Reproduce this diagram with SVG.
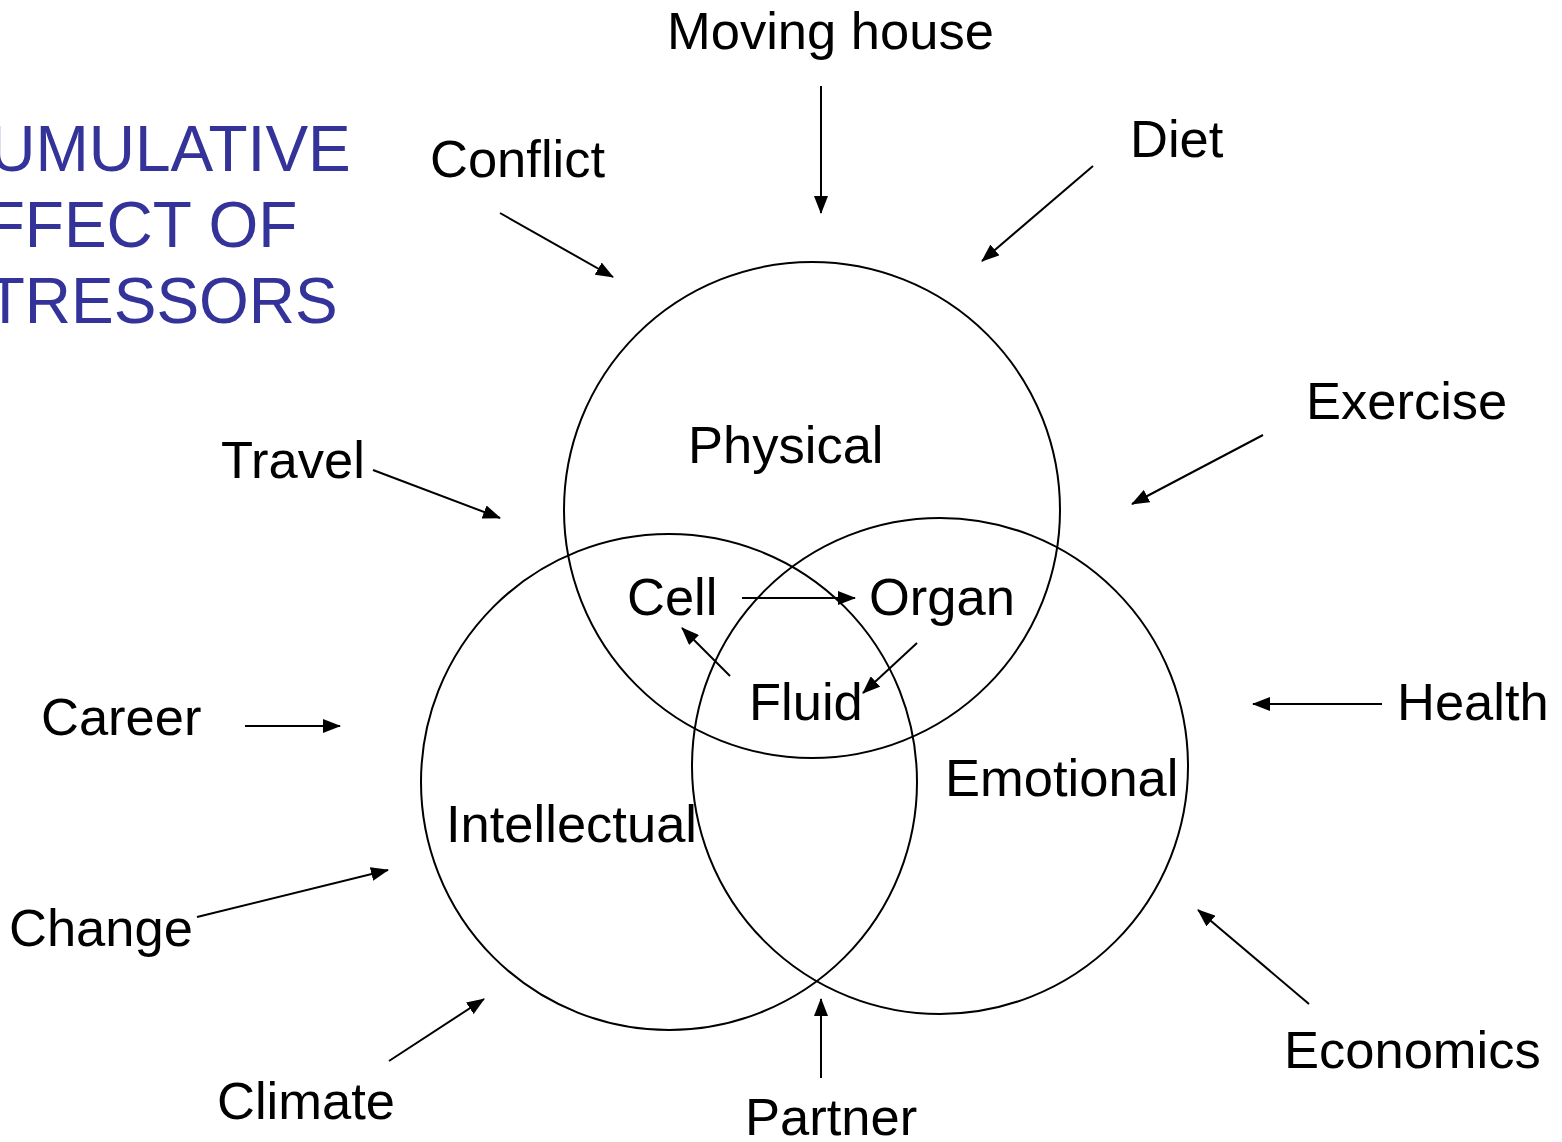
<svg xmlns="http://www.w3.org/2000/svg" width="1562" height="1142" viewBox="0 0 1562 1142">
<style>
.lbl{font-family:"Liberation Sans",Arial,sans-serif;font-size:52.5px;fill:#000}
.title{font-family:"Liberation Sans",Arial,sans-serif;font-size:64px;fill:#333399}
.circ{fill:none;stroke:#000;stroke-width:2}
.arr{stroke:#000;stroke-width:2;fill:none;marker-end:url(#ah)}
</style>
<defs>
<marker id="ah" markerUnits="userSpaceOnUse" markerWidth="18" markerHeight="14" viewBox="0 0 18 14" refX="17" refY="7" orient="auto">
<path d="M0,0 L18,7 L0,14 Z" fill="#000"/>
</marker>
</defs>
<rect width="1562" height="1142" fill="#fff"/>
<g id="title">
<text class="title" x="-57" y="171">CUMULATIVE</text>
<text class="title" x="-57" y="247">EFFECT OF</text>
<text class="title" x="-57" y="323">STRESSORS</text>
</g>
<g id="physical"><circle class="circ" cx="812" cy="510" r="248"/><text class="lbl" x="688" y="463">Physical</text></g>
<g id="intellectual"><circle class="circ" cx="669" cy="782" r="248"/><text class="lbl" x="446" y="842">Intellectual</text></g>
<g id="emotional"><circle class="circ" cx="940" cy="766" r="248"/><text class="lbl" x="945" y="796">Emotional</text></g>
<g id="cell"><text class="lbl" x="627" y="615">Cell</text></g>
<g id="organ"><text class="lbl" x="869" y="615">Organ</text></g>
<g id="fluid"><text class="lbl" x="749" y="720">Fluid</text></g>
<g id="moving-house"><text class="lbl" x="667" y="49">Moving house</text></g>
<g id="conflict"><text class="lbl" x="430" y="177">Conflict</text></g>
<g id="diet"><text class="lbl" x="1130" y="157">Diet</text></g>
<g id="exercise"><text class="lbl" x="1306" y="419">Exercise</text></g>
<g id="travel"><text class="lbl" x="221" y="478">Travel</text></g>
<g id="career"><text class="lbl" x="41" y="735">Career</text></g>
<g id="health"><text class="lbl" x="1397" y="720">Health</text></g>
<g id="change"><text class="lbl" x="9" y="946">Change</text></g>
<g id="climate"><text class="lbl" x="217" y="1119">Climate</text></g>
<g id="partner"><text class="lbl" x="745" y="1135">Partner</text></g>
<g id="economics"><text class="lbl" x="1284" y="1068">Economics</text></g>
<g id="connectors">
<line class="arr" x1="821" y1="86" x2="821" y2="213"/>
<line class="arr" x1="1093" y1="166" x2="982" y2="261"/>
<line class="arr" x1="500" y1="213" x2="613" y2="277"/>
<line class="arr" x1="1263" y1="435" x2="1132" y2="504"/>
<line class="arr" x1="373" y1="470" x2="500" y2="518"/>
<line class="arr" x1="245" y1="726" x2="340" y2="726"/>
<line class="arr" x1="1382" y1="704" x2="1253" y2="704"/>
<line class="arr" x1="197" y1="917" x2="388" y2="870"/>
<line class="arr" x1="389" y1="1061" x2="484" y2="999"/>
<line class="arr" x1="821" y1="1078" x2="821" y2="999"/>
<line class="arr" x1="1309" y1="1004" x2="1198" y2="910"/>
<line class="arr" x1="742" y1="598" x2="855" y2="598"/>
<line class="arr" x1="730" y1="676" x2="682" y2="628"/>
<line class="arr" x1="917" y1="643" x2="863" y2="693"/>
</g>
</svg>
